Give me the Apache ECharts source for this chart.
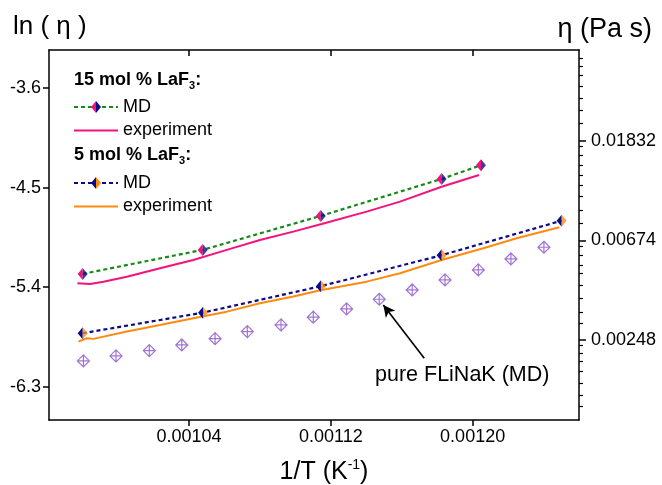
<!DOCTYPE html>
<html>
<head>
<meta charset="utf-8">
<script src="https://cdn.jsdelivr.net/npm/echarts@6/dist/echarts.min.js"></script>
<style>
  html,body{margin:0;padding:0;background:#fff;}
  #chart{width:662px;height:485px;}
</style>
</head>
<body>
<div id="chart"></div>
<script>
// 15 mol % LaF3, MD
var md15X = [0.000980, 0.0010477, 0.0011143, 0.0011825, 0.0012047];
var md15Y = [-5.280, -5.063, -4.756, -4.422, -4.298];
// 15 mol % LaF3, experiment
var exp15X = [0.000977, 0.0009842, 0.0009917, 0.0010049, 0.0010236, 0.0010424, 0.0010613, 0.0010800, 0.0010988, 0.0011148, 0.0011402, 0.0011590, 0.0011825, 0.0012036];
var exp15Y = [-5.364, -5.371, -5.350, -5.305, -5.229, -5.154, -5.063, -4.973, -4.898, -4.829, -4.717, -4.627, -4.492, -4.386];
// 5 mol % LaF3, MD
var md5X = [0.000980, 0.0010479, 0.0011144, 0.0011825, 0.0012502];
var md5Y = [-5.816, -5.630, -5.391, -5.111, -4.799];
// 5 mol % LaF3, experiment
var exp5X = [0.0009776, 0.0009823, 0.000986, 0.0010049, 0.0010236, 0.0010424, 0.0010613, 0.00108, 0.0010988, 0.0011148, 0.0011402, 0.001159, 0.0011825, 0.001206, 0.0012248, 0.0012489];
var exp5Y = [-5.892, -5.861, -5.867, -5.801, -5.741, -5.680, -5.621, -5.545, -5.485, -5.425, -5.350, -5.274, -5.154, -5.048, -4.958, -4.858];
// pure FLiNaK, MD
var pureX = [0.0009804, 0.0009988, 0.0010176, 0.0010359, 0.0010547, 0.0010729, 0.0010919, 0.0011101, 0.0011289, 0.0011473, 0.0011659, 0.0011844, 0.0012032, 0.0012216, 0.0012402];
var pureY = [-6.066, -6.021, -5.973, -5.922, -5.865, -5.801, -5.741, -5.671, -5.596, -5.509, -5.425, -5.334, -5.244, -5.145, -5.039];
// arrow for the annotation (from, to)
var arrowX = [0.0011727, 0.0011496];
var arrowY = [-6.042, -5.560];

// ticks
var xTicks = [0.00104, 0.00112, 0.00120];
var lnTicks = [-6.3, -5.4, -4.5, -3.6];
var etaTicks = [-6, -5, -4];
var etaMinor = [-3.169, -3.253, -3.337, -3.454, -3.571, -3.688, -3.822,
  -4.057, -4.141, -4.241, -4.342, -4.442, -4.560, -4.693, -4.827,
  -5.062, -5.146, -5.246, -5.330, -5.447, -5.581, -5.716, -5.832,
  -6.050, -6.134, -6.218, -6.318, -6.435, -6.553, -6.670];

function pairs(xs, ys){
  return xs.map(function(x, i){ return [x, ys[i]]; });
}

var FONT = 'Liberation Sans';
var GREEN = '#168a16', NAVY = '#0b0b8a', PINK = '#f5137a', ORANGE = '#ff8a12', PURPLE = '#8a52c8';
var LEFT_HALF = 'path://M1,0 L1,2 L0,1 Z';
var RIGHT_HALF = 'path://M0,0 L1,1 L0,2 Z';
var CROSS_DIAMOND = 'path://M5,0 L10,5 L5,10 L0,5 Z M5,0 L5,10 M0,5 L10,5';

var chart = echarts.init(document.getElementById('chart'));

var axisLine = {show: true, lineStyle: {color: '#000', width: 1.5}};
var labelStyle = {color: '#000', fontSize: 18, fontFamily: FONT};

function legendRow(y, lineColor, dash, leftColor, rightColor, label){
  var items = [{
    type: 'line', shape: {x1: 74, y1: y, x2: 118, y2: y},
    style: {stroke: lineColor, lineWidth: 2.2, lineDash: dash}
  }];
  if (leftColor) {
    items.push({type: 'polygon', shape: {points: [[96, y - 6], [96, y + 6], [91, y]]}, style: {fill: leftColor}});
    items.push({type: 'polygon', shape: {points: [[96, y - 6], [101, y], [96, y + 6]]}, style: {fill: rightColor}});
  }
  items.push({
    type: 'text', x: 123, y: y,
    style: {text: label, fill: '#000', fontSize: 18, fontFamily: FONT, verticalAlign: 'middle'}
  });
  return items;
}

var subRich = {sub: {fontSize: 11, fontWeight: 'bold', fontFamily: FONT, verticalAlign: 'bottom', lineHeight: 9}};

var graphics = [].concat(
  [{type: 'text', x: 74, y: 80, style: {text: '15 mol % LaF{sub|3}:', rich: subRich, fill: '#000', fontSize: 18, fontWeight: 'bold', fontFamily: FONT, verticalAlign: 'middle', lineHeight: 22}}],
  legendRow(107, GREEN, [4, 3], PINK, NAVY, 'MD'),
  legendRow(130.5, PINK, null, null, null, 'experiment'),
  [{type: 'text', x: 74, y: 155, style: {text: '5 mol % LaF{sub|3}:', rich: subRich, fill: '#000', fontSize: 18, fontWeight: 'bold', fontFamily: FONT, verticalAlign: 'middle', lineHeight: 22}}],
  legendRow(183, NAVY, [4, 3], NAVY, ORANGE, 'MD'),
  legendRow(206.5, ORANGE, null, null, null, 'experiment'),
  [
    {type: 'text', x: 13, y: 27, style: {text: 'ln ( η )', fill: '#000', fontSize: 26, fontFamily: FONT, verticalAlign: 'middle'}},
    {type: 'text', x: 652, y: 30, style: {text: 'η (Pa s)', fill: '#000', fontSize: 27, fontFamily: FONT, verticalAlign: 'middle', align: 'right'}},
    {type: 'text', x: 324, y: 472, style: {text: '1/T (K{sup|-1})', rich: {sup: {fontSize: 14, fontFamily: FONT, verticalAlign: 'top', lineHeight: 14}}, fill: '#000', fontSize: 25, fontFamily: FONT, verticalAlign: 'middle', align: 'center', lineHeight: 28}},
    {type: 'text', x: 375, y: 375, style: {text: 'pure FLiNaK (MD)', fill: '#000', fontSize: 21.5, fontFamily: FONT, verticalAlign: 'middle'}}
  ]
);

var option = {
  backgroundColor: '#fff',
  animation: false,
  grid: {left: 49, right: 83, top: 50, bottom: 65},
  xAxis: [{
    type: 'value', position: 'bottom', min: 0.000961, max: 0.00126,
    axisLine: axisLine,
    axisTick: {show: true, customValues: xTicks, length: 6, lineStyle: {color: '#000', width: 1.5}},
    axisLabel: Object.assign({customValues: xTicks, margin: 8, formatter: function(v){ return v.toFixed(5); }}, labelStyle),
    splitLine: {show: false}
  }, {
    type: 'value', position: 'top', min: 0.000961, max: 0.00126,
    axisLine: axisLine,
    axisTick: {show: true, inside: true, customValues: xTicks, length: 6, lineStyle: {color: '#000', width: 1.5}},
    axisLabel: {show: false},
    splitLine: {show: false}
  }],
  yAxis: [{
    type: 'value', position: 'left', min: -6.6, max: -3.257,
    axisLine: axisLine,
    axisTick: {show: true, customValues: lnTicks, length: 6, lineStyle: {color: '#000', width: 1.5}},
    axisLabel: Object.assign({customValues: lnTicks, margin: 8, formatter: function(v){ return v.toFixed(1); }}, labelStyle),
    splitLine: {show: false}
  }, {
    type: 'value', position: 'right', min: -6.804, max: -3.085,
    axisLine: axisLine,
    axisTick: {show: true, customValues: etaTicks, length: 7, lineStyle: {color: '#000', width: 1.5}},
    axisLabel: Object.assign({customValues: etaTicks, margin: 12, formatter: function(v){ return Math.exp(v).toFixed(5); }}, labelStyle),
    splitLine: {show: false}
  }, {
    type: 'value', position: 'right', min: -6.804, max: -3.085,
    axisLine: {show: false},
    axisTick: {show: true, customValues: etaMinor, length: 4, lineStyle: {color: '#000', width: 1.2}},
    axisLabel: {show: false},
    splitLine: {show: false}
  }],
  graphic: graphics,
  series: [{
    name: 'pure FLiNaK (MD)', type: 'scatter',
    data: pairs(pureX, pureY),
    symbol: CROSS_DIAMOND, symbolSize: 12,
    itemStyle: {color: 'rgba(0,0,0,0)', borderColor: PURPLE, borderWidth: 1.2},
    markLine: {
      silent: true, symbol: ['none', 'arrow'], symbolSize: [9, 12],
      lineStyle: {color: '#000', width: 1.6, type: 'solid'},
      label: {show: false},
      data: [[{coord: [arrowX[0], arrowY[0]]}, {coord: [arrowX[1], arrowY[1]]}]]
    }
  }, {
    name: '15 exp', type: 'line', data: pairs(exp15X, exp15Y),
    showSymbol: false, lineStyle: {color: PINK, width: 2}
  }, {
    name: '5 exp', type: 'line', data: pairs(exp5X, exp5Y),
    showSymbol: false, lineStyle: {color: ORANGE, width: 2}
  }, {
    name: '15 MD', type: 'line', data: pairs(md15X, md15Y),
    lineStyle: {color: GREEN, width: 2.2, type: [4, 3]},
    symbol: LEFT_HALF, symbolSize: [5, 12], symbolOffset: [-2.5, 0],
    itemStyle: {color: PINK}, z: 3
  }, {
    name: '15 MD r', type: 'scatter', data: pairs(md15X, md15Y),
    symbol: RIGHT_HALF, symbolSize: [5, 12], symbolOffset: [2.5, 0],
    itemStyle: {color: NAVY}, z: 4
  }, {
    name: '5 MD', type: 'line', data: pairs(md5X, md5Y),
    lineStyle: {color: NAVY, width: 2.2, type: [4, 3]},
    symbol: LEFT_HALF, symbolSize: [5, 12], symbolOffset: [-2.5, 0],
    itemStyle: {color: NAVY}, z: 3
  }, {
    name: '5 MD r', type: 'scatter', data: pairs(md5X, md5Y),
    symbol: RIGHT_HALF, symbolSize: [5, 12], symbolOffset: [2.5, 0],
    itemStyle: {color: ORANGE}, z: 4
  }]
};
chart.setOption(option);
</script>
</body>
</html>
